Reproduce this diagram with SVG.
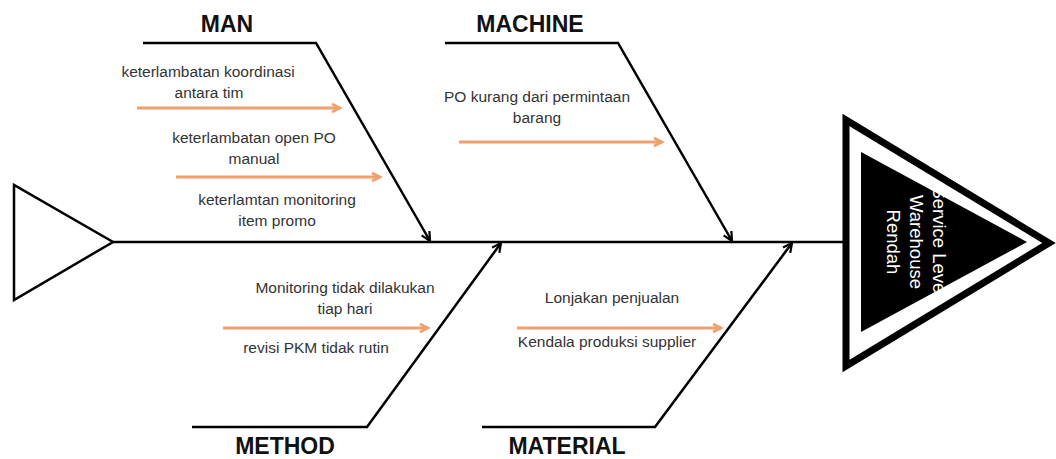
<svg xmlns="http://www.w3.org/2000/svg" width="1056" height="459" viewBox="0 0 1056 459">
<style>
.cat{font-family:"Liberation Sans",Arial,sans-serif;font-weight:bold;font-size:23px;fill:#111;text-anchor:middle}
.cause{font-family:"Liberation Sans",Arial,sans-serif;font-size:15.5px;fill:#333;text-anchor:middle}
.bone{stroke:#000;stroke-width:2.5;fill:none}
.cause-arrow{stroke:#F0A06E;stroke-width:3;fill:none;marker-end:url(#oa)}
.head-text{font-family:"Liberation Sans",Arial,sans-serif;font-size:18.5px;fill:#fff;text-anchor:middle}
</style>
<defs>
<marker id="ba" markerUnits="userSpaceOnUse" markerWidth="14" markerHeight="14" refX="10" refY="5" orient="auto" overflow="visible">
<path d="M1,0.5 L10,5 L1,9.5" fill="none" stroke="#000" stroke-width="2.2"/>
</marker>
<marker id="oa" markerUnits="userSpaceOnUse" markerWidth="14" markerHeight="14" refX="9" refY="5" orient="auto" overflow="visible">
<path d="M1,1 L9,5 L1,9" fill="none" stroke="#F0A06E" stroke-width="2.6"/>
</marker>
</defs>
<rect width="1056" height="459" fill="#fff"/>
<g id="connectors">
<line class="bone" x1="113" y1="242" x2="846" y2="242"/>
<polyline class="bone" points="143,43 316,43 430,241" marker-end="url(#ba)"/>
<polyline class="bone" points="445,43 618,43 732,241" marker-end="url(#ba)"/>
<polyline class="bone" points="192,427 367,427 501,243" marker-end="url(#ba)"/>
<polyline class="bone" points="482,427 655,427 792,243" marker-end="url(#ba)"/>
<line class="cause-arrow" x1="137" y1="108" x2="340" y2="108"/>
<line class="cause-arrow" x1="176" y1="177" x2="380" y2="177"/>
<line class="cause-arrow" x1="459" y1="142" x2="662" y2="142"/>
<line class="cause-arrow" x1="223" y1="328" x2="428" y2="328"/>
<line class="cause-arrow" x1="517" y1="328" x2="721" y2="328"/>
</g>
<g id="tail">
<polygon points="14,185 14,300 113,242" fill="#fff" stroke="#000" stroke-width="2.5"/>
</g>
<g id="head">
<polygon points="846,120 846,366 1049,243" fill="#fff" stroke="#000" stroke-width="7"/>
<polygon points="861,152 861,332 1027,242" fill="#000"/>
<text class="head-text" transform="translate(933,242) rotate(90)"><tspan x="0" y="0">Service Level</tspan><tspan x="0" dy="23">Warehouse</tspan><tspan x="0" dy="23">Rendah</tspan></text>
</g>
<g id="man"><text class="cat" x="227" y="32">MAN</text></g>
<g id="machine"><text class="cat" x="530" y="32">MACHINE</text></g>
<g id="method"><text class="cat" x="285" y="454">METHOD</text></g>
<g id="material"><text class="cat" x="567" y="454">MATERIAL</text></g>
<g id="cause-man-1"><text class="cause" x="208" y="77">keterlambatan koordinasi</text><text class="cause" x="209" y="98">antara tim</text></g>
<g id="cause-man-2"><text class="cause" x="254" y="143">keterlambatan open PO</text><text class="cause" x="254" y="164">manual</text></g>
<g id="cause-man-3"><text class="cause" x="277" y="205">keterlamtan monitoring</text><text class="cause" x="277" y="226">item promo</text></g>
<g id="cause-machine-1"><text class="cause" x="537" y="102">PO kurang dari permintaan</text><text class="cause" x="537" y="123">barang</text></g>
<g id="cause-method-1"><text class="cause" x="345" y="293">Monitoring tidak dilakukan</text><text class="cause" x="345" y="314">tiap hari</text></g>
<g id="cause-method-2"><text class="cause" x="316" y="353">revisi PKM tidak rutin</text></g>
<g id="cause-material-1"><text class="cause" x="612" y="303">Lonjakan penjualan</text></g>
<g id="cause-material-2"><text class="cause" x="607" y="347">Kendala produksi supplier</text></g>
</svg>
